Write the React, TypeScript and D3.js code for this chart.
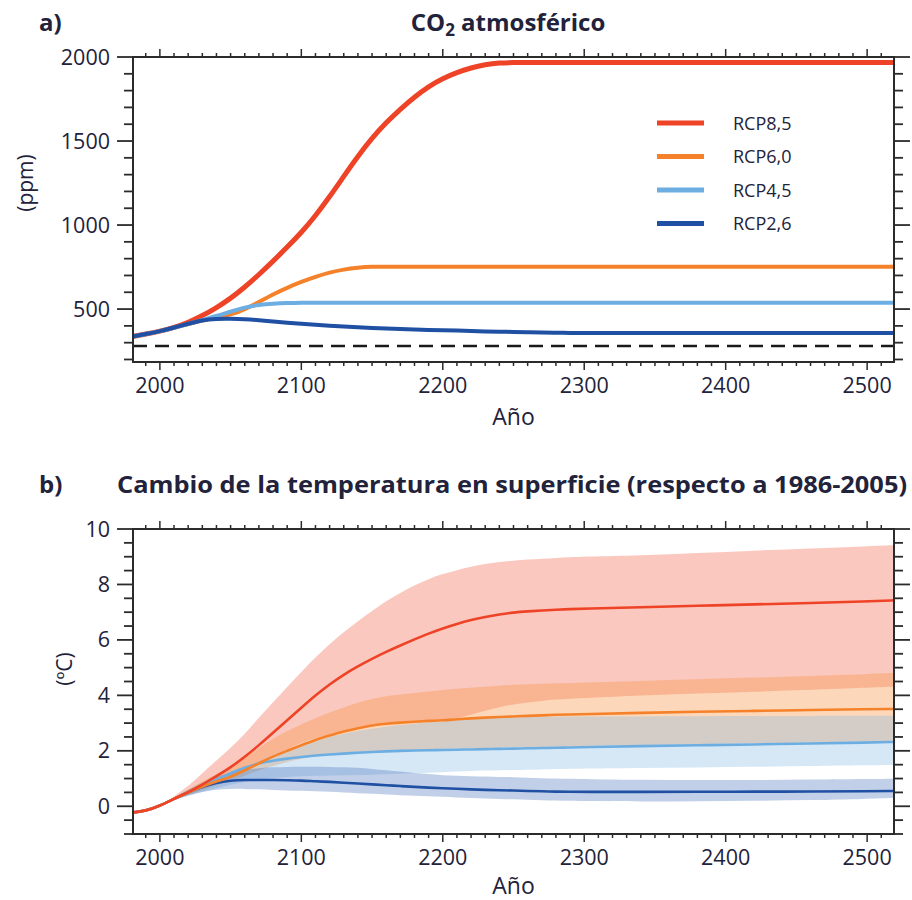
import React from "react";
import * as d3 from "d3";

// ---------- Panel a: atmospheric CO2 (ppm) ----------
const CO2_YEARS = [1980, 1990, 2000, 2010, 2020, 2030, 2040, 2050, 2060, 2070, 2080, 2090, 2100, 2110, 2120, 2130, 2140, 2150, 2160, 2170, 2180, 2190, 2200, 2210, 2220, 2230, 2240, 2250, 2260, 2270, 2280, 2290, 2300, 2400, 2520];
const CO2_RCP85 = [336, 351, 368, 390, 420, 460, 508, 563, 630, 705, 785, 868, 955, 1055, 1168, 1290, 1410, 1518, 1610, 1690, 1762, 1825, 1872, 1908, 1936, 1955, 1965, 1967, 1967, 1967, 1967, 1967, 1967, 1967, 1967];
const CO2_RCP60 = [336, 351, 368, 389, 410, 432, 450, 465, 498, 542, 588, 627, 662, 692, 718, 736, 747, 752, 752, 752, 752, 752, 752, 752, 752, 752, 752, 752, 752, 752, 752, 752, 752, 752, 752];
const CO2_RCP45 = [336, 351, 368, 389, 411, 435, 458, 485, 510, 525, 532, 536, 538, 538, 538, 538, 538, 538, 538, 538, 538, 538, 538, 538, 538, 538, 538, 538, 538, 538, 538, 538, 538, 538, 538];
const CO2_RCP26 = [336, 351, 368, 390, 413, 435, 442, 442, 440, 434, 426, 418, 412, 406, 401, 396, 391, 387, 384, 381, 378, 376, 374, 372, 369, 367, 365, 364, 362, 360, 359, 358, 357, 357, 357];
const CO2_PREINDUSTRIAL = 280;
const CO2_TICKS = [500, 1000, 1500, 2000];

// ---------- Panel b: surface temperature change (°C) ----------
const T_YEARS = [1980, 1990, 2000, 2010, 2020, 2030, 2040, 2050, 2060, 2070, 2080, 2090, 2100, 2110, 2120, 2130, 2140, 2150, 2160, 2170, 2180, 2190, 2200, 2210, 2220, 2230, 2240, 2250, 2260, 2270, 2280, 2290, 2300, 2340, 2380, 2420, 2460, 2500, 2520];
const T85 = [-0.23, -0.17, 0.02, 0.27, 0.5, 0.78, 1.08, 1.4, 1.78, 2.2, 2.65, 3.1, 3.55, 4.0, 4.4, 4.75, 5.05, 5.32, 5.57, 5.8, 6.02, 6.23, 6.42, 6.58, 6.72, 6.83, 6.92, 6.99, 7.03, 7.06, 7.09, 7.11, 7.13, 7.18, 7.23, 7.28, 7.33, 7.39, 7.43];
const T60 = [-0.23, -0.17, 0.02, 0.27, 0.5, 0.72, 0.9, 1.05, 1.3, 1.55, 1.8, 2.0, 2.2, 2.4, 2.55, 2.7, 2.82, 2.92, 2.98, 3.02, 3.05, 3.08, 3.1, 3.14, 3.17, 3.2, 3.22, 3.24, 3.26, 3.28, 3.3, 3.31, 3.32, 3.37, 3.41, 3.44, 3.47, 3.5, 3.51];
const T45 = [-0.23, -0.17, 0.02, 0.27, 0.5, 0.72, 0.95, 1.2, 1.4, 1.55, 1.65, 1.72, 1.78, 1.83, 1.87, 1.9, 1.93, 1.96, 1.98, 2.0, 2.01, 2.02, 2.03, 2.04, 2.05, 2.06, 2.07, 2.08, 2.09, 2.1, 2.11, 2.12, 2.13, 2.17, 2.2, 2.23, 2.26, 2.3, 2.32];
const T26 = [-0.23, -0.17, 0.02, 0.27, 0.5, 0.7, 0.85, 0.93, 0.95, 0.95, 0.95, 0.94, 0.93, 0.9, 0.88, 0.85, 0.82, 0.79, 0.76, 0.73, 0.7, 0.67, 0.65, 0.63, 0.61, 0.59, 0.58, 0.57, 0.55, 0.54, 0.53, 0.52, 0.52, 0.52, 0.52, 0.53, 0.53, 0.54, 0.55];

// uncertainty ranges, from 2000 onward (same years as T_YEARS from index 2)
const BAND_YEARS = T_YEARS.slice(2);
const T85_HI = [0.02, 0.35, 0.72, 1.2, 1.65, 2.1, 2.6, 3.2, 3.75, 4.3, 4.85, 5.38, 5.85, 6.28, 6.68, 7.05, 7.4, 7.7, 7.97, 8.2, 8.38, 8.52, 8.64, 8.74, 8.81, 8.86, 8.9, 8.93, 8.96, 8.98, 9.0, 9.05, 9.13, 9.22, 9.3, 9.38, 9.42];
const T85_LO = [0.02, 0.27, 0.45, 0.65, 0.85, 1.05, 1.3, 1.55, 1.8, 2.05, 2.3, 2.45, 2.6, 2.72, 2.82, 2.9, 2.97, 3.02, 3.06, 3.08, 3.1, 3.18, 3.3, 3.45, 3.58, 3.68, 3.75, 3.8, 3.85, 3.88, 3.9, 4.0, 4.07, 4.13, 4.2, 4.28, 4.32];
const T60_HI = [0.02, 0.3, 0.6, 0.9, 1.15, 1.42, 1.75, 2.1, 2.45, 2.72, 2.95, 3.18, 3.38, 3.57, 3.74, 3.88, 3.97, 4.03, 4.08, 4.14, 4.2, 4.24, 4.28, 4.31, 4.35, 4.38, 4.4, 4.42, 4.44, 4.45, 4.46, 4.52, 4.58, 4.64, 4.7, 4.77, 4.81];
const T60_LO = [0.02, 0.22, 0.4, 0.58, 0.75, 0.9, 1.1, 1.3, 1.45, 1.6, 1.72, 1.8, 1.85, 1.9, 1.94, 1.97, 2.0, 2.02, 2.04, 2.05, 2.07, 2.08, 2.09, 2.1, 2.11, 2.12, 2.13, 2.14, 2.15, 2.16, 2.18, 2.21, 2.24, 2.27, 2.3, 2.34, 2.36];
const T45_HI = [0.02, 0.3, 0.55, 0.8, 1.0, 1.2, 1.42, 1.62, 1.85, 2.02, 2.18, 2.35, 2.5, 2.62, 2.72, 2.8, 2.87, 2.93, 2.98, 3.03, 3.07, 3.11, 3.14, 3.17, 3.19, 3.21, 3.22, 3.23, 3.23, 3.24, 3.24, 3.24, 3.25, 3.25, 3.26, 3.26, 3.27];
const T45_LO = [0.02, 0.22, 0.38, 0.52, 0.65, 0.78, 0.88, 0.96, 1.02, 1.06, 1.08, 1.1, 1.11, 1.12, 1.13, 1.14, 1.15, 1.17, 1.19, 1.21, 1.23, 1.25, 1.27, 1.29, 1.3, 1.31, 1.32, 1.33, 1.34, 1.35, 1.36, 1.38, 1.4, 1.42, 1.45, 1.48, 1.49];
const T26_HI = [0.02, 0.32, 0.6, 0.85, 1.08, 1.22, 1.32, 1.38, 1.41, 1.42, 1.43, 1.43, 1.42, 1.41, 1.39, 1.35, 1.3, 1.25, 1.2, 1.16, 1.12, 1.1, 1.08, 1.07, 1.06, 1.05, 1.03, 1.01, 1.0, 0.99, 0.98, 0.95, 0.94, 0.95, 0.96, 0.98, 1.0];
const T26_LO = [0.02, 0.22, 0.4, 0.52, 0.6, 0.63, 0.63, 0.61, 0.59, 0.57, 0.56, 0.54, 0.52, 0.5, 0.47, 0.45, 0.42, 0.4, 0.38, 0.36, 0.34, 0.32, 0.3, 0.28, 0.26, 0.25, 0.24, 0.22, 0.21, 0.2, 0.19, 0.17, 0.18, 0.2, 0.22, 0.27, 0.3];
const T_TICKS = [0, 2, 4, 6, 8, 10];

const YEAR_TICKS = [2000, 2100, 2200, 2300, 2400, 2500];
const LEGEND = ["RCP8,5", "RCP6,0", "RCP4,5", "RCP2,6"];
const COLORS = ["#ee4326", "#f5822a", "#6daee2", "#1f50a3"];

const FONT = "'Open Sans', 'Liberation Sans', sans-serif";
const TXT = "#22223a";
const AX = "#2b2b2b";

const x = d3.scaleLinear().domain([1981, 2519]).range([133, 894]);
const yA = d3.scaleLinear().domain([185, 2000]).range([362, 57]);
const yB = d3.scaleLinear().domain([-1, 10]).range([834, 529]);

function Frame({ y, minorY, majorY, labels, labelDy }: { y: d3.ScaleLinear<number, number>; minorY: number[]; majorY: number[]; labels: number[]; labelDy: number }) {
  const [yb, yt] = y.range();
  const [xl, xr] = x.range();
  const xMinor = d3.range(1990, 2520, 10);
  return (
    <g>
      <rect x={xl} y={yt} width={xr - xl} height={yb - yt} fill="none" stroke={AX} strokeWidth={2} />
      {xMinor.map((v) => {
        const major = v % 100 === 0;
        const L = major ? 8 : 4;
        return (
          <g key={"x" + v}>
            <line x1={x(v)} x2={x(v)} y1={yb} y2={yb + L} stroke={AX} strokeWidth={1.5} />
            <line x1={x(v)} x2={x(v)} y1={yt} y2={yt - L} stroke={AX} strokeWidth={1.5} />
          </g>
        );
      })}
      {minorY.map((v) => {
        const major = majorY.includes(v);
        const L = major ? 16 : 9;
        return (
          <g key={"y" + v}>
            <line x1={xl} x2={xl - L} y1={y(v)} y2={y(v)} stroke={AX} strokeWidth={1.8} />
            <line x1={xr} x2={xr + L} y1={y(v)} y2={y(v)} stroke={AX} strokeWidth={1.8} />
          </g>
        );
      })}
      {labels.map((v) => (
        <text key={"l" + v} x={xl - 23} y={y(v) + 7.5} textAnchor="end" fontSize={21.5} fill={TXT} fontFamily={FONT}>
          {v}
        </text>
      ))}
      {YEAR_TICKS.map((v) => (
        <text key={"t" + v} x={x(v)} y={yb + 31} textAnchor="middle" fontSize={21.5} fill={TXT} fontFamily={FONT}>
          {v}
        </text>
      ))}
      <text x={(xl + xr) / 2} y={yb + labelDy} textAnchor="middle" fontSize={23} fill={TXT} fontFamily={FONT}>
        Año
      </text>
    </g>
  );
}

export default function App() {
  const co2Series = [CO2_RCP85, CO2_RCP60, CO2_RCP45, CO2_RCP26];
  const lineA = (vals: number[]) =>
    d3
      .line<number>()
      .x((_, i) => x(CO2_YEARS[i]))
      .y((v) => yA(v))
      .curve(d3.curveBasis)(vals) as string;

  const tSeries = [T85, T60, T45, T26];
  const bands = [
    [T85_LO, T85_HI],
    [T60_LO, T60_HI],
    [T45_LO, T45_HI],
    [T26_LO, T26_HI],
  ];
  const bandFill = ["#f4846f", "#f6954a", "#7fb6e3", "#3e6cb6"];
  const bandOpacity = [0.45, 0.38, 0.32, 0.32];
  const lineB = (vals: number[]) =>
    d3
      .line<number>()
      .x((_, i) => x(T_YEARS[i]))
      .y((v) => yB(v))
      .curve(d3.curveBasis)(vals) as string;
  const areaB = (lo: number[], hi: number[]) =>
    d3
      .area<number>()
      .x((_, i) => x(BAND_YEARS[i]))
      .y0((_, i) => yB(lo[i]))
      .y1((_, i) => yB(hi[i]))
      .curve(d3.curveBasis)(lo) as string;

  const minorA = d3.range(200, 2001, 100);
  const minorB = d3.range(-1, 10.01, 0.5).map((v) => Math.round(v * 10) / 10);

  return (
    <svg width={912} height={900} style={{ position: "absolute", left: 0, top: 0, background: "#fff" }}>
      <defs>
        <clipPath id="clipA">
          <rect x={133} y={57} width={761} height={305} />
        </clipPath>
        <clipPath id="clipB">
          <rect x={133} y={529} width={761} height={305} />
        </clipPath>
      </defs>

      {/* ---------- Panel a ---------- */}
      <text x={39} y={31} fontSize={24} fontWeight="bold" fill={TXT} fontFamily={FONT}>
        a)
      </text>
      <text x={508} y={31} textAnchor="middle" fontSize={24} fontWeight="bold" fill={TXT} fontFamily={FONT}>
        CO<tspan fontSize={17} dy={5}>2</tspan>
        <tspan dy={-5}> atmosférico</tspan>
      </text>
      <g clipPath="url(#clipA)">
        <line x1={133} x2={894} y1={yA(CO2_PREINDUSTRIAL)} y2={yA(CO2_PREINDUSTRIAL)} stroke="#1a1a1a" strokeWidth={2.5} strokeDasharray="14,8" />
        {co2Series.map((s, i) => (
          <path key={i} d={lineA(s)} fill="none" stroke={COLORS[i]} strokeWidth={i === 0 ? 5 : 4} />
        ))}
      </g>
      <Frame y={yA} minorY={minorA} majorY={CO2_TICKS} labels={CO2_TICKS} labelDy={63} />
      <text transform={`translate(33,183) rotate(-90)`} textAnchor="middle" fontSize={21} fill={TXT} fontFamily={FONT}>
        (ppm)
      </text>
      {LEGEND.map((name, i) => (
        <g key={name}>
          <line x1={657} x2={704} y1={123 + i * 33.5} y2={123 + i * 33.5} stroke={COLORS[i]} strokeWidth={5} />
          <text x={733} y={123 + i * 33.5 + 6.5} fontSize={18} fill={TXT} fontFamily={FONT}>
            {name}
          </text>
        </g>
      ))}

      {/* ---------- Panel b ---------- */}
      <text x={39} y={493} fontSize={24} fontWeight="bold" fill={TXT} fontFamily={FONT}>
        b)
      </text>
      <text x={512} y={493} textAnchor="middle" fontSize={24} fontWeight="bold" fill={TXT} fontFamily={FONT} textLength={790} lengthAdjust="spacingAndGlyphs">
        Cambio de la temperatura en superficie (respecto a 1986-2005)
      </text>
      <g clipPath="url(#clipB)">
        {bands.map(([lo, hi], i) => (
          <path key={"b" + i} d={areaB(lo, hi)} fill={bandFill[i]} fillOpacity={bandOpacity[i]} stroke="none" />
        ))}
        {[3, 2, 1, 0].map((i) => (
          <path key={"l" + i} d={lineB(tSeries[i])} fill="none" stroke={COLORS[i]} strokeWidth={2.6} />
        ))}
      </g>
      <Frame y={yB} minorY={minorB} majorY={T_TICKS} labels={T_TICKS} labelDy={60} />
      <text transform={`translate(72,669) rotate(-90)`} textAnchor="middle" fontSize={21} fill={TXT} fontFamily={FONT}>
        (ºC)
      </text>
    </svg>
  );
}
